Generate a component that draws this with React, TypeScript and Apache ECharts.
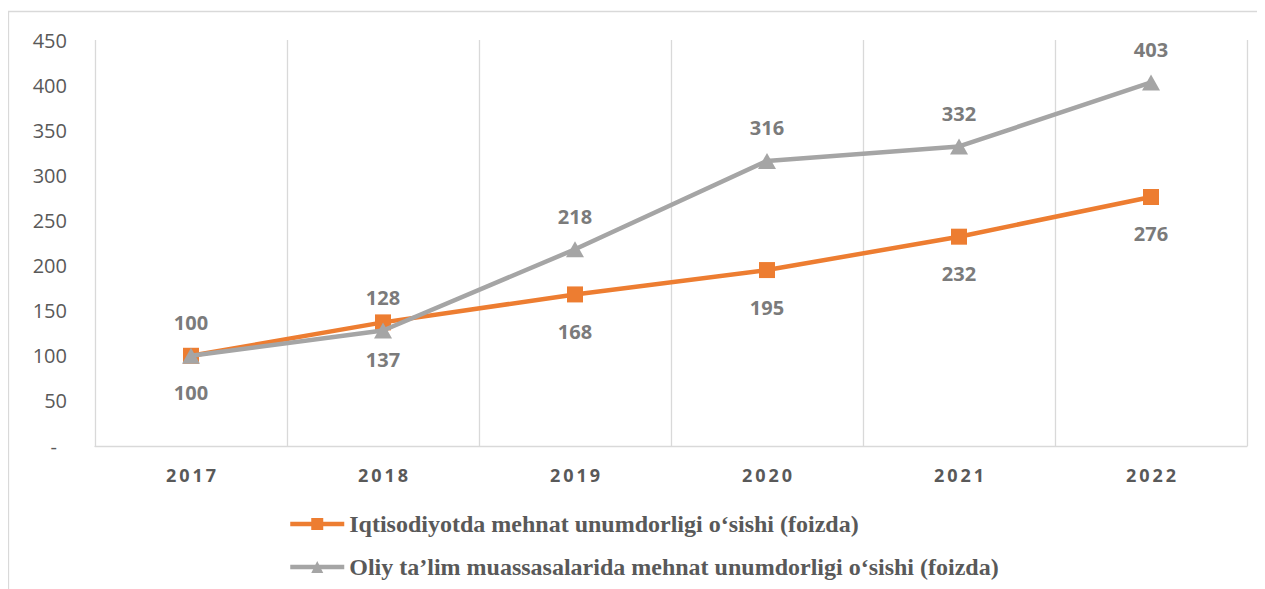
import React, { useEffect, useRef } from "react";
import * as echarts from "echarts";

const years = ["2017", "2018", "2019", "2020", "2021", "2022"];
const economyGrowth = [100, 137, 168, 195, 232, 276];
const higherEduGrowth = [100, 128, 218, 316, 332, 403];
const seriesNames = [
  "Iqtisodiyotda mehnat unumdorligi o‘sishi (foizda)",
  "Oliy ta’lim muassasalarida mehnat unumdorligi o‘sishi (foizda)",
];

export default function App() {
  const ref = useRef<HTMLDivElement>(null);
  useEffect(() => {
    if (!ref.current) return;
    const chart = echarts.init(ref.current, null, { renderer: "svg" });
    const labelStyle = {
      show: true,
      fontFamily: "Open Sans",
      fontWeight: "bold" as const,
      fontSize: 20,
      color: "#7b7b7b",
    };
    chart.setOption({
      animation: false,
      backgroundColor: "#ffffff",
      graphic: [
        {
          type: "rect",
          shape: { x: 0.5, y: 3.5, width: 1400, height: 800 },
          style: { fill: "none", stroke: "#d9d9d9", lineWidth: 1.3 },
          silent: true,
        },
      ],
      grid: { left: 87, right: 18, top: 32, bottom: 143 },
      legend: {
        orient: "vertical",
        left: 275,
        top: 499,
        itemWidth: 54,
        itemHeight: 15,
        itemGap: 19,
        lineStyle: { width: 4.5 },
        textStyle: {
          fontFamily: "Liberation Serif",
          fontWeight: "bold",
          fontSize: 24,
          color: "#595959",
        },
        data: seriesNames,
      },
      xAxis: {
        type: "category",
        data: years,
        boundaryGap: true,
        axisLine: { show: true, lineStyle: { color: "#d9d9d9", width: 1.3 } },
        axisTick: { show: false },
        splitLine: { show: true, interval: 0, lineStyle: { color: "#d9d9d9", width: 1.3 } },
        axisLabel: {
          margin: 20,
          interval: 0,
          fontFamily: "Open Sans",
          fontWeight: "bold",
          fontSize: 18,
          color: "#595959",
          formatter: (v: string) => v.split("").join("\u2009"),
        },
      },
      yAxis: {
        type: "value",
        min: 0,
        max: 450,
        interval: 50,
        axisLine: { show: false },
        axisTick: { show: false },
        splitLine: { show: false },
        axisLabel: {
          margin: 28,
          fontFamily: "Open Sans",
          fontSize: 20,
          color: "#595959",
          formatter: (v: number) => (v === 0 ? "{d|-}" : String(v)),
          rich: {
            d: {
              fontFamily: "Open Sans",
              fontSize: 20,
              color: "#595959",
              padding: [0, 10, 0, 0],
            },
          },
        },
      },
      series: [
        {
          name: seriesNames[0],
          type: "line",
          data: economyGrowth,
          color: "#ED7D31",
          symbol: "rect",
          symbolSize: 16,
          lineStyle: { width: 4.5, color: "#ED7D31" },
          itemStyle: { color: "#ED7D31" },
          label: { ...labelStyle, position: "bottom", distance: 19 },
          z: 2,
        },
        {
          name: seriesNames[1],
          type: "line",
          data: higherEduGrowth,
          color: "#A5A5A5",
          symbol: "triangle",
          symbolSize: [18, 16],
          lineStyle: { width: 4.5, color: "#A5A5A5" },
          itemStyle: { color: "#A5A5A5" },
          label: { ...labelStyle, position: "top", distance: 15 },
          z: 3,
        },
      ],
    });
    return () => chart.dispose();
  }, []);
  return <div ref={ref} style={{ width: 1257, height: 581 }} />;
}
